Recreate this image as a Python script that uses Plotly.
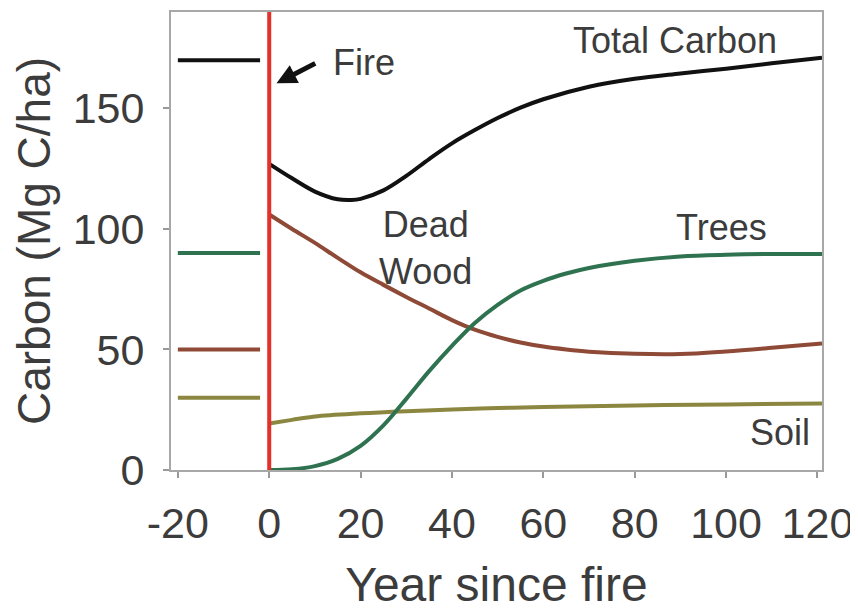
import plotly.graph_objects as go

# ---- data ----
pre_years = [-20, -2]
pre_total = [170, 170]
pre_trees = [90, 90]
pre_dead = [50, 50]
pre_soil = [30, 30]

total_years = [0, 5, 10, 15, 18, 20, 25, 30, 35, 40, 45, 50, 55, 60, 70, 80, 90, 100, 110, 121]
total_carbon = [127, 121, 115.5, 112.3, 112, 112.5, 116, 122, 129, 135.5, 141, 146, 150.3, 153.8, 159, 162.3, 164.5, 166.5, 168.7, 171]

tree_years = [0, 5, 10, 15, 20, 25, 30, 35, 40, 45, 50, 55, 60, 65, 70, 80, 90, 100, 110, 121]
trees = [0, 0.3, 1.6, 4.6, 10, 18.5, 29.5, 41, 51.5, 61, 68.5, 74.5, 78.5, 81.5, 83.8, 86.8, 88.6, 89.3, 89.6, 89.6]

dead_years = [0, 5, 10, 15, 20, 25, 30, 35, 40, 45, 50, 55, 60, 65, 70, 80, 90, 100, 110, 121]
dead_wood = [106, 100, 94.2, 88, 82, 76.8, 71.8, 67, 62.2, 58.2, 55.2, 52.9, 51.2, 50, 49.1, 48.2, 48.1, 49.2, 50.7, 52.5]

soil_years = [0, 5, 10, 20, 30, 40, 50, 60, 80, 100, 121]
soil = [19.3, 20.8, 22.2, 23.5, 24.4, 25.1, 25.7, 26.1, 26.8, 27.2, 27.6]

x_ticks = [-20, 0, 20, 40, 60, 80, 100, 120]
x_tick_labels = ["-20", "0", "20", "40", "60", "80", "100", "120"]
y_ticks = [0, 50, 100, 150]
fire_year = 0

# ---- styles ----
C_TOTAL = "#111111"
C_TREES = "#2f7250"
C_DEAD = "#8e4a36"
C_SOIL = "#8c8740"
C_FIRE = "#e3302a"
TXT = "#3c3c3c"
FONT = "Liberation Sans, Arial, sans-serif"
LW = 4

fig = go.Figure()

for y, c in [(pre_total, C_TOTAL), (pre_trees, C_TREES), (pre_dead, C_DEAD), (pre_soil, C_SOIL)]:
    fig.add_trace(go.Scatter(x=pre_years, y=y, mode="lines",
                             line=dict(color=c, width=LW), showlegend=False, hoverinfo="skip"))

for xs, ys, c in [(soil_years, soil, C_SOIL), (dead_years, dead_wood, C_DEAD),
                  (tree_years, trees, C_TREES), (total_years, total_carbon, C_TOTAL)]:
    fig.add_trace(go.Scatter(x=xs, y=ys, mode="lines",
                             line=dict(color=c, width=LW, shape="spline", smoothing=1.0),
                             showlegend=False))

fig.add_shape(type="line", xref="x", yref="paper", x0=fire_year, x1=fire_year, y0=0, y1=1,
              line=dict(color=C_FIRE, width=4))

ann_font = dict(family=FONT, size=36, color=TXT)
fig.add_annotation(x=88.8, y=178, text="Total Carbon", showarrow=False, font=ann_font)
fig.add_annotation(x=20.7, y=169, text="Fire", showarrow=False, font=ann_font)
fig.add_annotation(x=34.3, y=92, text="Dead<br>Wood", showarrow=False, font=ann_font)
fig.add_annotation(x=98.9, y=100.8, text="Trees", showarrow=False, font=ann_font)
fig.add_annotation(x=111.8, y=15.4, text="Soil", showarrow=False, font=ann_font)
fig.add_annotation(x=1.6, y=160.4, ax=10.4, ay=169, xref="x", yref="y", axref="x", ayref="y",
                   text="", showarrow=True, arrowhead=2, arrowsize=0.8, arrowwidth=5,
                   arrowcolor="#111111")

axis_common = dict(showgrid=False, zeroline=False, showline=True, linecolor="#a8a8a8",
                   linewidth=2, mirror=True, ticks="outside", tickcolor="#999999",
                   ticklen=6, tickwidth=2, automargin=False,
                   tickfont=dict(family=FONT, size=43, color=TXT))

fig.update_xaxes(range=[-21.5, 121], tickvals=x_ticks, ticktext=x_tick_labels,
                 ticklabelstandoff=8,
                 title=dict(text="Year since fire", font=dict(family=FONT, size=48, color=TXT),
                            standoff=22),
                 **axis_common)
fig.update_yaxes(range=[0, 190], tickvals=y_ticks, ticklabelstandoff=10,
                 title=dict(text="Carbon (Mg C/ha)", font=dict(family=FONT, size=46, color=TXT),
                            standoff=14),
                 **axis_common)

# the page adds an ~8px body margin, so margins are offset to place the frame
fig.update_layout(width=858, height=615, plot_bgcolor="white", paper_bgcolor="white",
                  margin=dict(l=163, r=44, t=4, b=153))

fig.write_html("out.html")
